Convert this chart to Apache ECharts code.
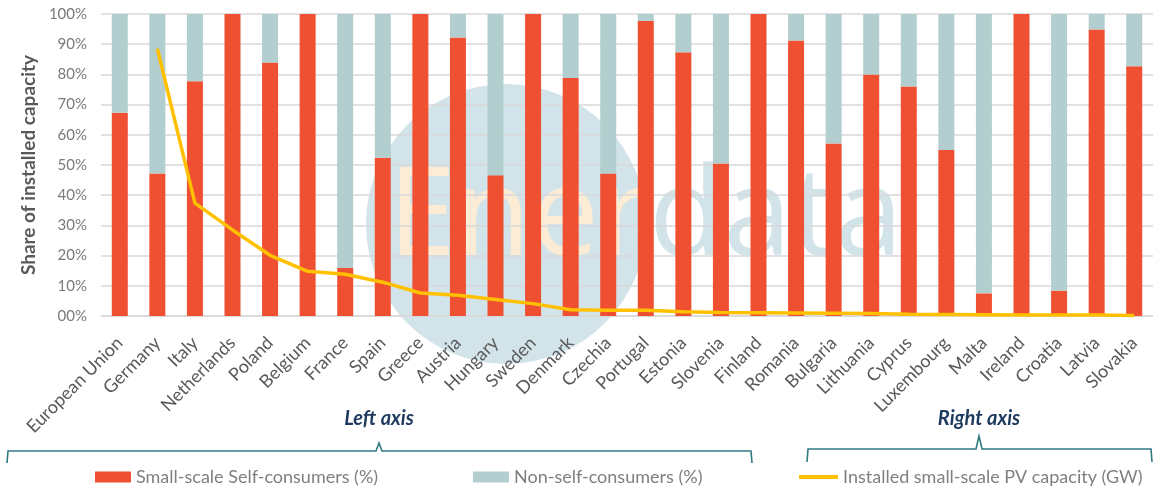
<!DOCTYPE html>
<html>
<head>
<meta charset="utf-8">
<script src="https://cdn.jsdelivr.net/npm/echarts@6/dist/echarts.min.js"></script>
<style>
html,body{margin:0;padding:0;background:#fff;}
#main{width:1153px;height:486px;}
</style>
</head>
<body>
<div id="main"></div>
<script>
// countries, left to right
var countries = ['European Union','Germany','Italy','Netherlands','Poland','Belgium','France','Spain','Greece','Austria','Hungary','Sweden','Denmark','Czechia','Portugal','Estonia','Slovenia','Finland','Romania','Bulgaria','Lithuania','Cyprus','Luxembourg','Malta','Ireland','Croatia','Latvia','Slovakia'];
// share of self-consumers (%)
var selfShare = [67.3,47.2,77.7,100,83.9,100,15.9,52.4,100,92.2,46.6,100,78.8,47.2,97.7,87.3,50.5,100,91.2,57.1,80,76,55,7.5,100,8.4,94.9,82.7];
// share of non-self-consumers (%)
var nonSelfShare = [32.7,52.8,22.3,0,16.1,0,84.1,47.6,0,7.8,53.4,0,21.2,52.8,2.3,12.7,49.5,0,8.8,42.9,20,24,45,92.5,0,91.6,5.1,17.3];
// installed small-scale PV capacity (right axis, hidden scale)
var pvCapacity = [null,88.5,37.4,28.5,20.1,14.8,13.8,11.2,7.6,6.9,5.5,4.1,2.1,1.9,1.9,1.4,1.2,1.1,1.0,0.9,0.8,0.6,0.5,0.4,0.3,0.3,0.3,0.2];

var RED = '#EF5032', TEAL = '#B3CECE', GOLD = '#FFC000', BRACE = '#2F7B82';
var txt = '#595959';

var myChart = echarts.init(document.getElementById('main'));
var legendText = { color: '#7f7f7f', fontSize: 18, fontFamily: 'Lato' };
var option = {
	animation: false,
	grid: { left: 101, right: 0, top: 14, bottom: 170 },
	legend: [
		{ left: 90, top: 463, itemWidth: 36, itemHeight: 11, icon: 'rect',
		  data: ['Small-scale Self-consumers (%)'], textStyle: legendText },
		{ left: 468, top: 463, itemWidth: 36, itemHeight: 11, icon: 'rect',
		  data: ['Non-self-consumers (%)'], textStyle: legendText },
		{ left: 794, top: 463, itemWidth: 39, itemHeight: 4, icon: 'rect',
		  data: ['Installed small-scale PV capacity (GW)'], textStyle: legendText }
	],
	xAxis: {
		type: 'category',
		data: countries,
		axisLine: { lineStyle: { color: '#D9D9D9', width: 1.5 } },
		axisTick: { show: false },
		axisLabel: { interval: 0, rotate: 45, margin: 24, color: txt, fontSize: 18, fontFamily: 'Lato' }
	},
	yAxis: [
		{
			type: 'value', min: 0, max: 100, interval: 10,
			name: 'Share of installed capacity', nameLocation: 'middle', nameGap: 60,
			nameTextStyle: { color: txt, fontSize: 19, fontWeight: 'bold', fontFamily: 'Lato' },
			axisLine: { show: false }, axisTick: { show: false },
			axisLabel: { margin: 14, color: '#7a7a7a', fontSize: 15, fontFamily: 'Lato',
				formatter: function (v) { return v === 0 ? '00%' : v + '%'; } },
			splitLine: { lineStyle: { color: '#D9D9D9', width: 1.5 } }
		},
		{
			type: 'value', min: 0, max: 100, show: false, splitLine: { show: false }
		}
	],
	graphic: [
		// Enerdata watermark behind the plot
		{ type: 'circle', z: -10, silent: true, shape: { cx: 506, cy: 224, r: 140 }, style: { fill: '#D2E4E9' } },
		{ type: 'text', z: -9, silent: true, x: 388, y: 220,
		  style: { text: '{a|Ener}{b|data}', verticalAlign: 'middle',
			rich: {
				a: { fontSize: 122, fontFamily: 'Open Sans', fill: '#FCEBD5' },
				b: { fontSize: 122, fontFamily: 'Open Sans', fill: '#D2E4E9' }
			} } },
		// braces
		{ type: 'polyline', silent: true, shape: { points: [[7,463],[8,451],[376,451],[379,443],[382,451],[751,451],[752,463]] },
		  style: { stroke: BRACE, lineWidth: 1.6, fill: null } },
		{ type: 'polyline', silent: true, shape: { points: [[807,462],[808,449],[976,449],[979,436],[982,449],[1151,449],[1152,462]] },
		  style: { stroke: BRACE, lineWidth: 1.6, fill: null } },
		{ type: 'text', silent: true, x: 379, y: 419,
		  style: { text: 'Left axis', align: 'center', verticalAlign: 'middle', fill: '#1F3A5F',
			font: 'italic bold 20px Lato' } },
		{ type: 'text', silent: true, x: 979, y: 419,
		  style: { text: 'Right axis', align: 'center', verticalAlign: 'middle', fill: '#1F3A5F',
			font: 'italic bold 20px Lato' } }
	],
	series: [
		{
			name: 'Small-scale Self-consumers (%)', type: 'bar', stack: 'share',
			barWidth: 16, itemStyle: { color: RED }, data: selfShare
		},
		{
			name: 'Non-self-consumers (%)', type: 'bar', stack: 'share',
			barWidth: 16, itemStyle: { color: TEAL }, data: nonSelfShare
		},
		{
			name: 'Installed small-scale PV capacity (GW)', type: 'line', yAxisIndex: 1,
			symbol: 'none', z: 5, lineStyle: { color: GOLD, width: 3.5 }, itemStyle: { color: GOLD },
			data: pvCapacity
		}
	]
};
if (option && typeof option === "object") {
	myChart.setOption(option, true);
}
</script>
</body>
</html>
